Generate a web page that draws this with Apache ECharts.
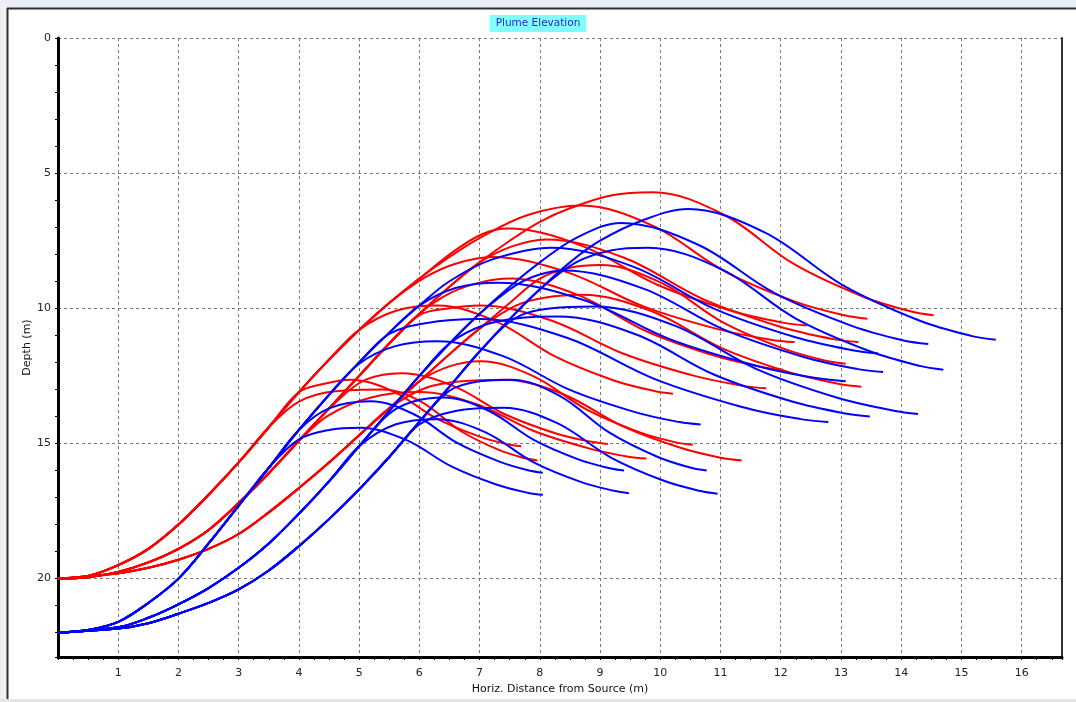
<!DOCTYPE html>
<html>
<head>
<meta charset="utf-8">
<title>Plume Elevation</title>
<script src="https://cdn.jsdelivr.net/npm/echarts@6/dist/echarts.min.js"></script>
<style>
  html, body { margin: 0; padding: 0; background: #fff; }
  #chart { width: 1076px; height: 702px; }
</style>
</head>
<body>
<div id="chart"></div>
<script>
// shared rise paths, [horiz. distance (m), depth (m)]
const redRiseA = [[0,20],[0.5,19.9],[1,19.5],[1.5,18.9],[2,18.0],[2.5,16.9],[3,15.7],[3.5,14.4],[4,13.1],[4.5,11.9],[5,10.8],[5.5,9.8],[6,8.9],[6.5,8.1],[7,7.4]];
const redRiseB = [[0,20],[0.5,19.95],[1,19.75],[1.5,19.4],[2,18.9],[2.5,18.2],[3,17.2],[3.5,16.1],[4,14.9],[4.5,13.7],[5,12.5],[5.5,11.3],[6,10.2],[6.5,9.2],[7,8.3],[7.5,7.5],[8,6.8],[8.5,6.3]];
const redRiseC = [[0,20],[1,19.8],[1.5,19.6],[2,19.3],[2.5,18.9],[3,18.35],[3.5,17.55],[4,16.65],[4.5,15.7],[5,14.7],[5.5,13.7],[6,12.7],[6.5,11.7],[7,10.75],[7.5,9.8],[8,8.9],[8.5,8.1],[9,7.4]];

const blueRiseA = [[0,22],[0.5,21.9],[1,21.6],[1.5,20.9],[2,20.0],[2.5,18.7],[3,17.3],[3.5,15.9],[4,14.5],[4.5,13.2],[5,12.0],[5.5,10.9],[6,9.9],[6.5,9.0]];
const blueRiseB = [[0,22],[1,21.8],[1.5,21.45],[2,20.95],[2.5,20.35],[3,19.6],[3.5,18.7],[4,17.6],[4.5,16.4],[5,15.1],[5.5,13.8],[6,12.5],[6.5,11.3],[7,10.2],[7.5,9.2],[8,8.3]];
const blueRiseC = [[0,22],[1,21.85],[1.5,21.65],[2,21.3],[2.5,20.9],[3,20.4],[3.5,19.7],[4,18.8],[4.5,17.8],[5,16.7],[5.5,15.5],[6,14.2],[6.5,12.9],[7,11.6],[7.5,10.4],[8,9.3],[8.5,8.3],[9,7.5]];

// [rise path, last x taken from it, rest of the trajectory]
const redPlumes = [
  [redRiseB, 8.5, [[9.2,5.82],[9.88,5.71],[11.05,6.53],[12.21,8.35],[13.38,9.58],[14.17,10.12],[14.54,10.26]]],
  [redRiseA, 7, [[7.8,6.55],[8.69,6.2],[9.88,6.95],[11.07,8.63],[12.25,9.76],[13.06,10.26],[13.44,10.39]]],
  [redRiseA, 6, [[6.6,7.85],[7.05,7.25],[7.47,7.05],[8.71,7.7],[9.95,9.13],[11.19,10.1],[12.03,10.53],[12.43,10.64]]],
  [redRiseB, 7, [[7.55,7.7],[8.1,7.45],[9.4,8.13],[10.7,9.65],[11.99,10.68],[12.87,11.14],[13.29,11.25]]],
  [redRiseA, 5.5, [[6.1,8.85],[6.6,8.35],[7.2,8.1],[8.46,8.67],[9.72,9.93],[10.97,10.78],[11.83,11.16],[12.23,11.25]]],
  [redRiseC, 8, [[8.5,8.5],[9.0,8.4],[10.02,9.06],[11.04,10.52],[12.06,11.5],[12.75,11.94],[13.08,12.05]]],
  [redRiseB, 6, [[6.5,9.45],[7,9.05],[7.5,8.9],[8.64,9.51],[9.77,10.85],[10.91,11.76],[11.68,12.17],[12.04,12.27]]],
  [redRiseC, 7, [[7.6,9.9],[8.1,9.6],[8.7,9.5],[9.86,10.11],[11.02,11.47],[12.18,12.39],[12.97,12.8],[13.34,12.9]]],
  [redRiseB, 5.5, [[6,10.25],[6.5,10.0],[7.0,9.9],[8.19,10.45],[9.38,11.67],[10.57,12.5],[11.38,12.87],[11.76,12.96]]],
  [redRiseA, 5, [[5.6,10.1],[6.3,9.9],[7.28,10.49],[8.26,11.79],[9.23,12.67],[9.9,13.06],[10.21,13.16]]],
  [redRiseC, 6, [[6.5,12.15],[7.02,11.96],[7.9,12.52],[8.78,13.75],[9.66,14.59],[10.26,14.96],[10.54,15.05]]],
  [redRiseC, 5.5, [[6.1,12.95],[6.7,12.7],[7.4,12.64],[8.39,13.18],[9.38,14.37],[10.36,15.18],[11.03,15.54],[11.35,15.63]]],
  [redRiseA, 4, [[4.4,12.8],[4.86,12.64],[5.57,13.08],[6.28,14.07],[6.98,14.73],[7.46,15.03],[7.69,15.1]]],
  [redRiseA, 3.5, [[4.0,13.45],[4.6,13.07],[5.4,13.0],[6.04,13.47],[6.68,14.53],[7.32,15.24],[7.76,15.55],[7.96,15.63]]],
  [redRiseB, 4, [[4.6,13.5],[5.1,12.65],[5.7,12.4],[6.56,12.87],[7.42,13.92],[8.27,14.63],[8.86,14.94],[9.13,15.02]]],
  [redRiseB, 4, [[4.5,13.95],[5.2,13.3],[6.0,13.1],[6.94,13.54],[7.89,14.53],[8.83,15.19],[9.47,15.49],[9.77,15.56]]]
];

const bluePlumes = [
  [blueRiseC, 9, [[9.7,6.75],[10.46,6.33],[11.74,7.2],[13.02,9.13],[14.29,10.44],[15.16,11.02],[15.57,11.16]]],
  [blueRiseB, 8, [[8.6,7.4],[9.35,6.84],[10.63,7.65],[11.9,9.44],[13.18,10.65],[14.04,11.19],[14.45,11.32]]],
  [blueRiseC, 8, [[8.6,8.3],[9.2,7.85],[9.8,7.76],[11.03,8.57],[12.25,10.38],[13.48,11.59],[14.31,12.13],[14.7,12.27]]],
  [blueRiseA, 6.5, [[7.2,8.2],[8.19,7.76],[9.55,8.46],[10.91,10.03],[12.26,11.08],[13.19,11.55],[13.62,11.67]]],
  [blueRiseB, 7, [[7.6,9.15],[8.0,8.75],[8.4,8.6],[9.73,9.28],[11.05,10.78],[12.38,11.8],[13.28,12.25],[13.7,12.36]]],
  [blueRiseA, 6, [[6.6,9.25],[7.3,9.05],[8.75,9.71],[10.19,11.17],[11.64,12.15],[12.62,12.59],[13.08,12.7]]],
  [blueRiseC, 7, [[7.6,10.35],[8.2,10.0],[8.9,9.93],[10.25,10.65],[11.59,12.24],[12.94,13.31],[13.88,13.79],[14.28,13.91]]],
  [blueRiseB, 6.5, [[7.1,10.6],[7.7,10.35],[8.3,10.3],[9.6,10.97],[10.89,12.45],[12.19,13.45],[13.07,13.89],[13.48,14.0]]],
  [blueRiseA, 5, [[5.5,10.95],[6.1,10.55],[7.0,10.4],[8.45,11.09],[9.9,12.61],[11.34,13.64],[12.33,14.1],[12.79,14.21]]],
  [blueRiseA, 4.5, [[5,12.05],[5.6,11.4],[6.3,11.22],[7.39,11.77],[8.49,13.01],[9.58,13.84],[10.32,14.21],[10.67,14.3]]],
  [blueRiseA, 4, [[4.5,13.7],[5.19,13.44],[5.91,13.92],[6.62,14.97],[7.34,15.68],[7.82,16.0],[8.05,16.08]]],
  [blueRiseA, 3.5, [[4.0,14.85],[4.5,14.5],[5.02,14.42],[5.78,14.87],[6.54,15.86],[7.29,16.53],[7.81,16.83],[8.05,16.9]]],
  [blueRiseB, 5, [[5.5,13.9],[5.9,13.45],[6.4,13.3],[7.15,13.79],[7.9,14.87],[8.65,15.6],[9.16,15.92],[9.4,16.0]]],
  [blueRiseB, 4.5, [[5,15.1],[5.6,14.3],[6.3,14.1],[7.1,14.59],[7.89,15.69],[8.69,16.43],[9.23,16.75],[9.48,16.84]]],
  [blueRiseC, 6, [[6.5,13.05],[7.0,12.7],[7.52,12.64],[8.33,13.24],[9.15,14.59],[9.96,15.5],[10.51,15.9],[10.77,16.0]]],
  [blueRiseC, 5.5, [[6,14.3],[6.6,13.8],[7.4,13.68],[8.29,14.25],[9.18,15.52],[10.06,16.38],[10.67,16.76],[10.95,16.86]]]
];

const xMax = 16.67;
const depthMax = 22.9;
const font = "'DejaVu Sans', Verdana, sans-serif";

function buildLine(rise, upto, tail) {
  return rise.filter((p) => p[0] <= upto).concat(tail);
}

function plumeSeries(plume, color) {
  return {
    type: "line",
    data: buildLine(plume[0], plume[1], plume[2]),
    showSymbol: false,
    smooth: 0.35,
    silent: true,
    lineStyle: { color: color, width: 2 },
    itemStyle: { color: color },
  };
}

function getOption() {
  const series = [];
  redPlumes.forEach((p) => series.push(plumeSeries(p, "#ff0000")));
  bluePlumes.forEach((p) => series.push(plumeSeries(p, "#0000ff")));
  return {
    animation: false,
    backgroundColor: "#ffffff",
    title: {
      text: "Plume Elevation",
      left: "center",
      top: 15,
      padding: [3, 6, 3, 6],
      backgroundColor: "#80ffff",
      textStyle: { color: "#2a2ac8", fontSize: 10.5, fontWeight: "normal", fontFamily: font },
    },
    grid: { left: 58, right: 14, top: 38, bottom: 45 },
    graphic: [
      { type: "rect", shape: { x: 0, y: 0, width: 1076, height: 8 }, style: { fill: "#e9edf5" } },
      { type: "rect", shape: { x: 0, y: 0, width: 7, height: 702 }, style: { fill: "#eef0f4" } },
      { type: "rect", shape: { x: 0, y: 699, width: 1076, height: 3 }, style: { fill: "#e6e6e6" } },
      { type: "line", shape: { x1: 7, y1: 8.5, x2: 1076, y2: 8.5 }, style: { stroke: "#303030", lineWidth: 2 } },
      { type: "line", shape: { x1: 7.5, y1: 8, x2: 7.5, y2: 699 }, style: { stroke: "#303030", lineWidth: 2 } },
    ],
    xAxis: {
      type: "value",
      min: 0,
      max: xMax,
      interval: 1,
      name: "Horiz. Distance from Source (m)",
      nameLocation: "middle",
      nameGap: 27,
      nameTextStyle: { color: "#111", fontSize: 11, fontFamily: font },
      axisLine: { show: true, onZero: false, lineStyle: { color: "#000", width: 3 } },
      axisTick: { show: true, length: 3, lineStyle: { color: "#000" } },
      minorTick: { show: true, splitNumber: 4, length: 3, lineStyle: { color: "#000" } },
      axisLabel: { showMinLabel: false, showMaxLabel: false, color: "#222", fontSize: 11, fontFamily: font, margin: 11 },
      splitLine: { show: true, lineStyle: { type: [3, 3], color: "#7a7a7a" } },
    },
    yAxis: [
      {
        type: "value",
        inverse: true,
        min: 0,
        max: depthMax,
        interval: 5,
        name: "Depth (m)",
        nameLocation: "middle",
        nameGap: 25,
        nameRotate: 90,
        nameMoveOverlap: false,
        nameTextStyle: { color: "#111", fontSize: 11, fontFamily: font },
        axisLine: { show: true, onZero: false, lineStyle: { color: "#000", width: 3 } },
        axisTick: { show: true, length: 3, lineStyle: { color: "#000" } },
        minorTick: { show: true, splitNumber: 5, length: 3, lineStyle: { color: "#000" } },
        axisLabel: { showMaxLabel: false, color: "#222", fontSize: 11, fontFamily: font, margin: 7 },
        splitLine: { show: true, lineStyle: { type: [3, 3], color: "#7a7a7a" } },
      },
      {
        // right frame of the plot
        type: "value",
        position: "right",
        min: 0,
        max: 1,
        axisLine: { show: true, onZero: false, lineStyle: { color: "#303030", width: 2 } },
        axisTick: { show: false },
        axisLabel: { show: false },
        splitLine: { show: false },
      },
    ],
    series: series,
  };
}

const myChart = echarts.init(document.getElementById("chart"));
myChart.setOption(getOption());
</script>
</body>
</html>
